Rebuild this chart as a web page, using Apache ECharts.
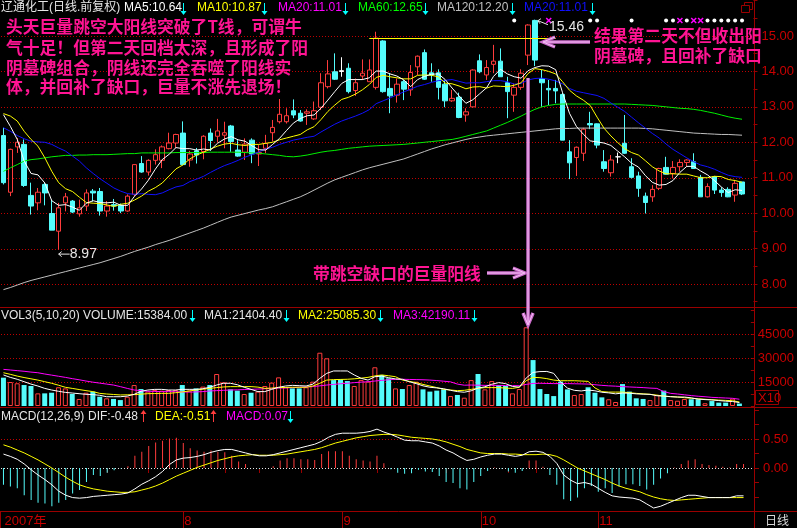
<!DOCTYPE html>
<html>
<head>
<meta charset="utf-8">
<script src="https://cdn.jsdelivr.net/npm/echarts@6/dist/echarts.min.js"></script>
<style>
html,body{margin:0;padding:0;background:#000;}
#main{width:797px;height:528px;background:#000;}
</style>
</head>
<body>
<div id="main"></div>
<script>
// ---- daily prices (open / close / low / high), late June to end of November 2007 ----
const openP = [12.19,10.59,11.87,11.94,10.50,10.29,10.81,9.99,9.49,10.29,
10.34,9.98,10.20,10.62,10.61,10.06,10.24,10.22,10.06,10.53,
11.40,11.16,11.49,11.49,11.82,11.98,12.26,11.50,11.76,11.74,
12.26,12.17,12.20,12.46,11.78,11.72,12.06,11.67,11.83,12.27,
12.58,12.58,12.89,12.82,12.82,12.66,12.99,13.57,13.99,14.02,
14.09,13.46,13.87,13.71,13.55,14.86,13.52,13.33,13.71,13.48,
14.13,14.53,13.96,13.96,13.64,13.17,13.27,12.77,13.00,14.30,
13.90,14.20,14.29,13.68,13.33,13.55,14.46,15.44,13.80,13.52,
13.52,13.35,11.73,11.57,11.69,12.53,12.52,11.45,11.14,11.59,
11.97,11.31,11.05,10.48,10.46,10.70,11.29,11.12,11.31,11.43,
11.45,11.01,10.46,11.03,10.65,10.67,10.51,10.88];
const closeP = [10.86,11.80,12.00,10.78,10.20,10.59,10.57,9.52,10.15,10.46,
10.03,10.15,10.57,10.57,10.06,10.20,10.20,10.06,10.48,11.37,
11.16,11.49,11.65,11.87,11.98,12.22,11.37,11.67,11.64,12.17,
12.05,12.32,12.27,12.02,11.61,11.95,11.67,11.71,11.97,12.42,
12.79,12.75,12.77,12.60,12.86,12.89,13.68,13.93,13.78,14.00,
13.43,13.68,13.95,14.04,14.94,13.43,13.31,13.64,13.50,13.97,
14.43,13.78,13.90,13.55,13.17,13.24,12.70,12.86,14.04,13.99,
14.11,14.29,13.85,13.43,13.55,13.95,15.31,14.32,13.68,13.48,
13.45,12.06,11.42,11.86,12.37,12.49,11.92,11.26,11.50,11.59,
11.69,11.01,10.70,10.30,10.67,11.26,11.10,11.29,11.43,11.50,
11.26,10.46,10.75,10.65,10.58,10.46,10.84,10.54];
const lowP = [10.81,10.48,11.70,10.74,9.96,10.08,10.22,9.52,8.97,10.05,
10.00,9.90,10.06,10.33,9.93,9.90,10.07,10.00,10.04,10.48,
11.14,11.06,11.37,11.27,11.80,11.84,11.35,11.31,11.40,11.52,
11.76,12.01,11.83,11.73,11.59,11.50,11.41,11.33,11.69,12.02,
12.53,12.53,12.68,12.58,12.49,12.63,12.91,13.52,13.76,13.85,
13.38,13.31,13.76,13.71,13.49,13.40,12.82,13.12,13.19,13.31,
13.90,13.76,13.71,13.21,12.99,13.14,12.68,12.58,12.98,13.95,
13.76,13.95,13.85,12.68,12.86,13.48,14.18,14.15,13.00,13.05,
13.10,12.06,10.96,11.05,11.47,12.37,11.83,11.17,11.03,11.41,
11.67,10.98,10.46,9.99,10.32,10.65,11.09,10.98,11.17,11.31,
11.26,10.46,10.44,10.54,10.46,10.45,10.32,10.51];
const highP = [12.41,11.82,12.12,12.08,10.86,10.71,10.86,10.38,10.29,10.57,
10.37,10.38,10.67,10.68,10.71,10.34,10.40,10.27,10.53,11.38,
11.61,11.52,11.80,11.91,12.27,12.24,12.59,11.76,11.84,12.20,
12.39,12.66,12.58,12.49,12.06,12.11,12.11,11.92,12.21,12.63,
13.22,12.96,13.21,12.91,12.93,13.15,13.95,14.32,14.51,14.40,
14.23,13.80,14.34,14.34,15.12,14.88,13.95,13.80,13.76,14.18,
14.45,14.62,14.23,14.06,13.76,13.48,13.40,12.96,14.06,14.48,
14.32,14.75,14.65,13.85,13.66,14.06,15.33,15.46,14.04,13.76,
13.76,13.40,12.06,11.88,12.41,12.86,12.53,11.78,11.64,11.71,
12.77,11.55,11.17,10.58,10.79,11.28,11.59,11.47,11.52,11.52,
11.69,11.08,10.84,11.05,10.73,10.73,10.94,10.88];
// days drawn as white crosses (open practically equal to close)
const dojiIdx = [49, 89];

// ---- price moving averages ----
const ma5 = [12.78,12.45,12.08,11.47,11.12,11.08,10.85,10.35,10.22,10.24,
10.17,10.08,10.28,10.35,10.30,10.29,10.31,10.22,10.22,10.48,
10.68,10.93,11.24,11.51,11.66,11.85,11.82,11.82,11.78,11.81,
11.78,11.97,12.09,12.16,12.07,12.03,11.90,11.79,11.78,11.94,
12.11,12.33,12.54,12.67,12.75,12.77,12.96,13.19,13.43,13.66,
13.77,13.77,13.77,13.82,14.01,14.01,13.93,13.87,13.76,13.57,
13.77,13.86,13.92,13.93,13.77,13.53,13.31,13.10,13.20,13.37,
13.54,13.86,14.06,13.93,13.85,13.81,14.02,14.11,14.16,14.15,
14.05,13.40,12.82,12.45,12.23,12.04,12.01,11.98,11.91,11.75,
11.59,11.41,11.30,11.06,10.87,10.79,10.81,10.92,11.15,11.32,
11.32,11.19,11.08,10.92,10.74,10.58,10.66,10.64];
const ma10 = [12.81,12.74,12.60,12.31,12.08,11.89,11.56,11.18,10.86,10.69,
10.61,10.45,10.30,10.28,10.27,10.23,10.19,10.25,10.28,10.37,
10.48,10.62,10.72,10.85,11.05,11.25,11.36,11.53,11.64,11.72,
11.81,11.89,11.95,11.97,11.93,11.91,11.94,11.94,11.97,12.00,
12.07,12.12,12.17,12.22,12.35,12.44,12.64,12.87,13.05,13.21,
13.27,13.36,13.48,13.63,13.83,13.89,13.85,13.82,13.79,13.79,
13.89,13.90,13.89,13.85,13.67,13.65,13.59,13.51,13.56,13.57,
13.53,13.59,13.58,13.57,13.61,13.68,13.94,14.08,14.05,14.00,
13.93,13.71,13.47,13.31,13.19,13.04,12.71,12.40,12.18,11.99,
11.82,11.71,11.64,11.48,11.31,11.19,11.11,11.11,11.10,11.10,
11.05,11.00,11.00,11.04,11.03,10.95,10.92,10.87];
const ma20 = [12.41,12.31,12.19,12.10,12.03,12.01,12.00,11.94,11.84,11.75,
11.61,11.47,11.28,11.12,10.97,10.84,10.71,10.62,10.55,10.53,
10.55,10.53,10.52,10.57,10.66,10.74,10.78,10.89,10.96,11.04,
11.15,11.25,11.34,11.41,11.49,11.58,11.65,11.73,11.81,11.86,
11.94,12.00,12.06,12.10,12.14,12.17,12.29,12.40,12.51,12.60,
12.67,12.74,12.82,12.92,13.09,13.17,13.25,13.34,13.42,13.50,
13.58,13.63,13.69,13.74,13.75,13.77,13.72,13.67,13.68,13.68,
13.71,13.74,13.74,13.71,13.64,13.66,13.76,13.80,13.81,13.78,
13.73,13.65,13.52,13.44,13.40,13.36,13.32,13.24,13.11,12.99,
12.87,12.71,12.55,12.40,12.25,12.12,11.95,11.80,11.68,11.56,
11.45,11.36,11.31,11.24,11.15,11.07,11.03,11.01];
const ma60 = [11.18,11.28,11.37,11.47,11.51,11.53,11.56,11.59,11.61,11.63,
11.63,11.64,11.64,11.65,11.65,11.65,11.66,11.67,11.68,11.68,
11.70,11.70,11.70,11.70,11.70,11.71,11.71,11.71,11.71,11.71,
11.72,11.72,11.72,11.72,11.72,11.71,11.70,11.69,11.67,11.65,
11.63,11.60,11.59,11.61,11.64,11.68,11.72,11.75,11.77,11.80,
11.83,11.85,11.87,11.89,11.90,11.91,11.92,11.93,11.94,11.96,
11.98,12.00,12.02,12.04,12.06,12.08,12.12,12.17,12.22,12.27,
12.32,12.40,12.48,12.56,12.65,12.74,12.84,12.93,13.00,13.04,
13.07,13.08,13.08,13.08,13.08,13.08,13.08,13.08,13.08,13.08,
13.08,13.07,13.06,13.05,13.04,13.02,13.00,12.98,12.96,12.95,
12.93,12.90,12.86,12.82,12.77,12.72,12.68,12.65];
const ma120 = [7.84,7.90,7.97,8.04,8.10,8.15,8.20,8.25,8.30,8.35,
8.40,8.45,8.50,8.55,8.60,8.66,8.72,8.78,8.85,8.92,
8.98,9.04,9.11,9.17,9.23,9.30,9.37,9.44,9.51,9.58,
9.66,9.74,9.82,9.89,9.94,9.99,10.04,10.09,10.13,10.18,
10.25,10.32,10.39,10.46,10.55,10.65,10.75,10.85,10.94,11.01,
11.08,11.15,11.22,11.28,11.33,11.38,11.43,11.48,11.53,11.60,
11.67,11.74,11.81,11.87,11.93,11.98,12.03,12.08,12.12,12.15,
12.18,12.20,12.22,12.24,12.26,12.28,12.30,12.32,12.34,12.36,
12.38,12.39,12.39,12.40,12.40,12.40,12.40,12.40,12.40,12.40,
12.40,12.40,12.40,12.39,12.38,12.36,12.34,12.32,12.30,12.28,
12.26,12.25,12.24,12.23,12.22,12.22,12.21,12.20];

// ---- volume (shares) and its 5 / 10 / 20 day averages ----
const volume = [177000,150000,142000,131000,125000,79000,79000,83000,117000,110000,
75000,44000,83000,90000,58000,48000,44000,37000,58000,131000,
106000,90000,100000,96000,100000,100000,131000,96000,110000,121000,
131000,200000,148000,104000,96000,75000,83000,90000,125000,146000,
179000,117000,110000,110000,117000,152000,333000,298000,162000,167000,
156000,125000,162000,152000,242000,194000,173000,110000,106000,131000,
152000,104000,90000,96000,104000,62000,69000,52000,162000,200000,
104000,156000,131000,125000,79000,106000,492000,287000,106000,75000,
62000,152000,104000,69000,75000,117000,83000,54000,42000,25000,
137000,90000,48000,44000,37000,69000,96000,37000,33000,44000,
42000,42000,17000,31000,21000,21000,46000,15384];
const volMa5 = [194000,179000,167000,152000,137000,125000,110000,100000,92000,85000,
81000,77000,73000,71000,67000,58000,58000,58000,62000,73000,
92000,100000,104000,104000,100000,100000,104000,104000,104000,108000,
117000,131000,142000,142000,133000,117000,104000,90000,90000,104000,
117000,125000,129000,127000,125000,137000,173000,204000,219000,219000,
219000,194000,173000,162000,183000,187000,177000,169000,167000,152000,
140000,126000,117000,113000,108000,98000,90000,86000,95000,112000,
120000,136000,146000,140000,122000,118000,175000,210000,215000,216000,
204000,150000,112000,98000,94000,100000,95000,86000,82000,76000,
81000,80000,76000,74000,73000,64000,62000,58000,56000,56000,
51000,43000,40000,38000,34000,30000,28000,21404.40];
const volMa10 = [208000,198000,187000,178000,170000,162000,152000,142000,130000,117000,
110000,103000,96000,90000,79000,75000,72000,69000,70000,71000,
74000,77000,78000,79000,79000,83000,88000,94000,100000,105000,
110000,115000,119000,121000,121000,121000,121000,118000,110000,112000,
115000,116000,117000,117000,117000,125000,142000,162000,165000,166000,
167000,170000,174000,179000,188000,194000,189000,183000,162000,154000,
146000,135000,125000,115000,104000,100000,96000,98000,104000,110000,
115000,115000,115000,112000,110000,117000,158000,179000,177000,171000,
162000,158000,158000,158000,156000,154000,113000,90000,87000,87000,
87000,83000,79000,76000,73000,68000,62000,59000,56000,52000,
48000,45000,42000,39000,37000,35000,33000,25085.30];
const volMa20 = [229000,225000,221000,217000,212000,208000,200000,193000,186000,179000,
171000,164000,156000,149000,143000,137000,131000,121000,110000,100000,
96000,92000,91000,90000,90000,89000,88000,87000,88000,90000,
94000,96000,98000,100000,101000,103000,104000,106000,108000,110000,
112000,113000,115000,117000,119000,121000,126000,131000,135000,139000,
142000,146000,149000,152000,156000,160000,164000,167000,167000,166000,
165000,164000,162000,159000,155000,151000,137000,130000,131000,130000,
129000,129000,129000,128000,127000,127000,135000,141000,142000,141000,
140000,140000,140000,139000,138000,137000,133000,129000,126000,124000,
121000,119000,117000,115000,112000,110000,90000,79000,75000,70000,
65000,61000,58000,54000,52000,50000,48000,42190.11];

// ---- MACD(12,26,9) ----
const dif = [0.24,0.20,0.15,0.07,-0.03,-0.12,-0.20,-0.29,-0.40,-0.47,
-0.51,-0.52,-0.51,-0.49,-0.48,-0.47,-0.46,-0.45,-0.43,-0.36,
-0.28,-0.22,-0.15,-0.06,0.06,0.14,0.17,0.18,0.20,0.23,
0.27,0.30,0.32,0.32,0.29,0.26,0.23,0.21,0.21,0.23,
0.26,0.29,0.32,0.35,0.38,0.41,0.46,0.53,0.58,0.60,
0.60,0.60,0.61,0.63,0.67,0.62,0.58,0.53,0.48,0.47,
0.47,0.45,0.43,0.38,0.31,0.26,0.19,0.13,0.15,0.19,
0.22,0.24,0.24,0.22,0.20,0.22,0.28,0.29,0.27,0.20,
0.08,-0.12,-0.21,-0.27,-0.25,-0.28,-0.35,-0.42,-0.48,-0.50,
-0.51,-0.52,-0.55,-0.62,-0.69,-0.66,-0.61,-0.56,-0.51,-0.47,
-0.47,-0.49,-0.51,-0.51,-0.51,-0.51,-0.48,-0.48];
const dea = [0.40,0.36,0.31,0.26,0.20,0.14,0.07,0.00,-0.08,-0.16,
-0.23,-0.29,-0.33,-0.36,-0.38,-0.40,-0.41,-0.42,-0.42,-0.41,
-0.38,-0.35,-0.31,-0.26,-0.20,-0.14,-0.09,-0.04,0.01,0.05,
0.09,0.13,0.16,0.19,0.21,0.22,0.23,0.22,0.22,0.22,
0.23,0.24,0.26,0.28,0.30,0.32,0.35,0.39,0.43,0.46,
0.49,0.52,0.54,0.56,0.57,0.58,0.58,0.57,0.55,0.53,
0.52,0.51,0.50,0.48,0.45,0.41,0.37,0.32,0.29,0.26,
0.25,0.25,0.25,0.24,0.24,0.23,0.23,0.23,0.24,0.23,
0.20,0.14,0.07,0.00,-0.05,-0.10,-0.15,-0.20,-0.26,-0.31,
-0.35,-0.38,-0.41,-0.46,-0.50,-0.53,-0.55,-0.56,-0.55,-0.54,
-0.53,-0.52,-0.51,-0.51,-0.51,-0.51,-0.51,-0.51];
const macd = [-0.29,-0.32,-0.35,-0.47,-0.55,-0.60,-0.61,-0.66,-0.60,-0.55,
-0.44,-0.38,-0.24,-0.12,-0.14,-0.08,-0.04,-0.01,0.03,0.21,
0.28,0.38,0.44,0.47,0.51,0.52,0.43,0.34,0.30,0.28,
0.30,0.28,0.27,0.21,0.11,0.07,0.00,-0.01,0.00,0.03,
0.13,0.17,0.17,0.15,0.15,0.14,0.24,0.29,0.29,0.29,
0.21,0.15,0.13,0.11,0.21,0.08,-0.02,-0.08,-0.10,-0.09,
-0.03,-0.06,-0.07,-0.14,-0.24,-0.26,-0.35,-0.37,-0.24,-0.14,
-0.05,0.01,-0.01,-0.06,-0.08,-0.05,0.13,0.13,0.02,-0.12,
-0.29,-0.54,-0.57,-0.51,-0.35,-0.31,-0.41,-0.35,-0.43,-0.32,
-0.28,-0.28,-0.31,-0.37,-0.29,-0.18,-0.09,0.01,0.07,0.13,
0.15,0.07,0.05,0.04,0.02,0.01,0.07,0.07];

// ---- axis ticks and labels ----
const categories = openP.map((_, i) => 'D' + (i + 1));
const monthStarts = [0, 26, 49, 69, 86];
const monthNames = ['2007年', '8', '9', '10', '11'];
const weekTicks = [10, 15, 21, 32, 37, 43, 54, 59, 64, 73, 77, 82];
const priceTicks = [8, 9, 10, 11, 12, 13, 14, 15];
const volTicks = [15000, 30000, 45000];     // axis shows volume / 10
const macdTicks = [0, 0.5];

// ---- signal row markers ----
const signalDots = [74, 85, 86, 91, 96, 97, 99, 102, 103, 104, 105, 106, 107];
const signalCrosses = [79, 98, 100, 101];

// ---- annotation anchors ----
const gapDay = 76;          // gap-up big-volume day
const gapLine = { from: 53, to: 80, day: 54 };

// ---- colours ----
const C_UP = '#ff3c3c', C_DN = '#54fcfc', C_FRAME = '#9a0000', C_GRID = '#c00000', C_AXIS = '#c80000';
const C_NOTE = '#ff1493', C_ARROW = '#cc6ccc', C_ARROW_IN = '#f6c2f6';
const NUM_FONT = '"Liberation Sans Narrow", "Liberation Sans", sans-serif';
const HEAD_FONT = '12px "Liberation Sans", "Noto Sans CJK SC", sans-serif';
const NOTE_FONT = 'bold 16.8px "Noto Sans CJK SC", sans-serif';

const chart = echarts.init(document.getElementById('main'), null, { renderer: 'canvas' });

const candleData = openP.map((o, i) => {
  const item = { value: [o, closeP[i], lowP[i], highP[i]] };
  if (dojiIdx.includes(i)) {
    item.itemStyle = { color: '#ffffff', color0: '#ffffff', borderColor: '#ffffff', borderColor0: '#ffffff' };
  }
  return item;
});
const volData = volume.map((v, i) => ({
  value: v,
  itemStyle: closeP[i] >= openP[i]
    ? { color: '#000000', borderColor: C_UP, borderWidth: 1 }
    : { color: C_DN, borderColor: C_DN, borderWidth: 0 }
}));
const macdData = macd.map(v => ({ value: v, itemStyle: { color: v >= 0 ? C_UP : C_DN } }));

function maLine(data, color, axis) {
  return {
    type: 'line', data, xAxisIndex: axis, yAxisIndex: axis,
    symbol: 'none', silent: true, z: 4,
    lineStyle: { color, width: 1 }
  };
}
function valueAxis(grid, min, max, interval, fmt, margin) {
  return {
    type: 'value', gridIndex: grid, position: 'right', offset: 8,
    min, max, interval, scale: false,
    axisLine: { show: false }, splitLine: { show: false },
    axisTick: { show: true, length: 4, lineStyle: { color: C_FRAME } },
    axisLabel: { color: C_AXIS, fontSize: 13, fontFamily: NUM_FONT, margin, formatter: fmt }
  };
}

chart.setOption({
  animation: false,
  backgroundColor: 'transparent',
  grid: [
    { left: 0, top: 0.57, width: 747, height: 301.13 },
    { left: 0, top: 310, width: 747, height: 96 },
    { left: 0, top: 410, width: 747, height: 101.5 }
  ],
  xAxis: [
    { type: 'category', gridIndex: 0, data: categories, boundaryGap: true, show: false },
    { type: 'category', gridIndex: 1, data: categories, boundaryGap: true, show: false },
    {
      type: 'category', gridIndex: 2, data: categories, boundaryGap: true,
      axisLine: { show: false }, splitLine: { show: false },
      axisTick: {
        show: true, alignWithLabel: true, length: 5,
        interval: i => weekTicks.includes(i),
        lineStyle: { color: C_FRAME }
      },
      axisLabel: {
        show: true, interval: i => monthStarts.includes(i),
        formatter: (v, i) => monthNames[monthStarts.indexOf(i)] || '',
        color: C_AXIS, fontSize: 13, fontFamily: '"Liberation Sans", "Noto Sans CJK SC", sans-serif',
        align: 'left', margin: 3, padding: [0, 0, 0, 1]
      }
    }
  ],
  yAxis: [
    valueAxis(0, 7.5, 16, 0.5, v => priceTicks.includes(v) ? v.toFixed(2) : '', 8),
    valueAxis(1, 0, 600000, 75000, v => volTicks.includes(v / 10) ? String(v / 10) : '', 7),
    valueAxis(2, -0.75, 1, 0.25, v => macdTicks.includes(v) ? v.toFixed(2) : '', 8)
  ],
  series: [
    {
      type: 'candlestick', xAxisIndex: 0, yAxisIndex: 0, data: candleData,
      barWidth: 5, z: 3, silent: true,
      itemStyle: { color: '#000000', color0: C_DN, borderColor: C_UP, borderColor0: C_DN, borderWidth: 1 }
    },
    maLine(ma120, '#c0c0c0', 0),
    maLine(ma60, '#00f000', 0),
    maLine(ma20, '#1010ff', 0),
    maLine(ma10, '#ffff00', 0),
    maLine(ma5, '#ffffff', 0),
    { type: 'bar', xAxisIndex: 1, yAxisIndex: 1, data: volData, barWidth: 5, silent: true, z: 3 },
    maLine(volMa20, '#ff00ff', 1),
    maLine(volMa10, '#ffff00', 1),
    maLine(volMa5, '#ffffff', 1),
    { type: 'bar', xAxisIndex: 2, yAxisIndex: 2, data: macdData, barWidth: 1, silent: true, z: 3 },
    maLine(dea, '#ffff00', 2),
    maLine(dif, '#ffffff', 2)
  ]
});

// ---------- overlay: frame, grid lines, headers and notes ----------
const px = (g, i, v) => chart.convertToPixel({ gridIndex: g }, [i, v]);
const els = [];
function seg(x1, y1, x2, y2, stroke, w, dash, z) {
  els.push({ type: 'line', silent: true, z: z || 50,
    shape: { x1, y1, x2, y2 },
    style: { stroke, lineWidth: w || 1, lineDash: dash || null } });
}
function text(str, x, y, fill, font, align) {
  els.push({ type: 'text', silent: true, z: 60,
    style: { text: str, x, y, fill, font,
      align: align || 'left', verticalAlign: 'middle',
      textAlign: align || 'left', textVerticalAlign: 'middle' } });
}
function poly(points, stroke, w, z) {
  els.push({ type: 'polyline', silent: true, z: z || 55,
    shape: { points }, style: { stroke, lineWidth: w, fill: null, lineJoin: 'miter' } });
}
// dotted horizontal rule: one-pixel dots every third pixel, behind the series
function dotted(y, x0, x1, color) {
  const yy = Math.round(y) + 0.5;
  els.push({ type: 'line', silent: true, z: 1,
    shape: { x1: x0, y1: yy, x2: x1, y2: yy },
    style: { stroke: color, lineWidth: 1, lineDash: [1, 2] } });
}
// thin indicator arrows in the header rows
function smallArrow(x, yTop, down, color) {
  const yb = yTop + 11;
  seg(x + 0.5, yTop, x + 0.5, yb, color, 1, null, 60);
  if (down) {
    els.push({ type: 'polygon', silent: true, z: 60,
      shape: { points: [[x - 2.5, yb - 3], [x + 3.5, yb - 3], [x + 0.5, yb + 1]] }, style: { fill: color } });
  } else {
    els.push({ type: 'polygon', silent: true, z: 60,
      shape: { points: [[x - 2.5, yTop + 3], [x + 3.5, yTop + 3], [x + 0.5, yTop - 1]] }, style: { fill: color } });
  }
}
// thick pink annotation arrow ending at (x2, y2)
function noteArrow(x1, y1, x2, y2, head) {
  const dx = x2 - x1, dy = y2 - y1, len = Math.hypot(dx, dy);
  const ux = dx / len, uy = dy / len, nx = -uy, ny = ux;
  const h = head || 11, hw = 5;
  const wing1 = [x2 - ux * h + nx * hw, y2 - uy * h + ny * hw];
  const wing2 = [x2 - ux * h - nx * hw, y2 - uy * h - ny * hw];
  seg(x1, y1, x2 - ux * 2, y2 - uy * 2, C_ARROW, 3.5, null, 55);
  poly([wing1, [x2, y2], wing2], C_ARROW, 3.5, 55);
  seg(x1, y1, x2 - ux * 2, y2 - uy * 2, C_ARROW_IN, 1, null, 56);
  poly([wing1, [x2, y2], wing2], C_ARROW_IN, 1, 56);
}

const RIGHT = 754.5;
// panel frame
seg(RIGHT, 0, RIGHT, 528, C_FRAME, 1);
seg(0, 307.5, 797, 307.5, C_FRAME, 1);
seg(0, 407.5, 797, 407.5, C_FRAME, 1);
seg(0, 511.5, 797, 511.5, C_FRAME, 1);
seg(0.5, 511.5, 0.5, 528, C_FRAME, 1);
// month separators on the date strip
monthStarts.slice(1).forEach(i => {
  const x = Math.round(px(2, i, 0)[0]) + 0.5;
  seg(x, 511.5, x, 528, C_FRAME, 1);
});
// dotted grid lines
priceTicks.forEach(v => dotted(px(0, 0, v)[1], 1, 754, C_GRID));
volTicks.forEach(v => dotted(px(1, 0, v * 10)[1], 1, 754, C_GRID));
macdTicks.forEach(v => dotted(px(2, 0, v)[1], 1, 754, v === 0 ? '#e8e8e8' : C_GRID));
// window icon, volume scale box, period box
els.push({ type: 'rect', silent: true, z: 50, shape: { x: 744.5, y: 2.5, width: 8, height: 7 }, style: { stroke: C_FRAME, fill: null } });
els.push({ type: 'rect', silent: true, z: 50, shape: { x: 741.5, y: 5.5, width: 8, height: 7 }, style: { stroke: C_FRAME, fill: '#000' } });
els.push({ type: 'rect', silent: true, z: 50, shape: { x: 755.5, y: 390.5, width: 23, height: 14 }, style: { stroke: C_FRAME, fill: null } });
text('X10', 758, 398, C_AXIS, '13px ' + NUM_FONT);
text('日线', 765, 520, '#d8d8d8', '12px "Noto Sans CJK SC", sans-serif');

// header rows
const last = openP.length - 1;
const WHITE = '#e6e6e6', CYAN = '#00ffff', RED = '#ff3c3c';
text('辽通化工(日线.前复权)', 1, 8, WHITE, HEAD_FONT);
[
  ['MA5:' + ma5[last].toFixed(2), 124, '#ffffff', 183],
  ['MA10:' + ma10[last].toFixed(2), 197, '#ffff00', 264],
  ['MA20:' + ma20[last].toFixed(2), 278, '#ff00ff', 345],
  ['MA60:' + ma60[last].toFixed(2), 358, '#00ff00', 425],
  ['MA120:' + ma120[last].toFixed(2), 437, '#c0c0c0', 512],
  ['MA20:' + ma20[last].toFixed(2), 524, '#1010ff', 592]
].forEach(([s, x, c, ax]) => { text(s, x, 8, c, HEAD_FONT); smallArrow(ax, 3, true, CYAN); });

text('VOL3(5,10,20)', 1, 316, WHITE, HEAD_FONT);
[
  ['VOLUME:' + volume[last].toFixed(2), 83, WHITE, 192],
  ['MA1:' + volMa5[last].toFixed(2), 204, WHITE, 286],
  ['MA2:' + volMa10[last].toFixed(2), 298, '#ffff00', 380],
  ['MA3:' + volMa20[last].toFixed(2), 393, '#ff00ff', 474]
].forEach(([s, x, c, ax]) => { text(s, x, 316, c, HEAD_FONT); smallArrow(ax, 310, true, CYAN); });

text('MACD(12,26,9)', 1, 417, WHITE, HEAD_FONT);
text('DIF:' + dif[last].toFixed(2), 88, 417, WHITE, HEAD_FONT);
smallArrow(143, 411, false, RED);
text('DEA:' + dea[last].toFixed(2), 155, 417, '#ffff00', HEAD_FONT);
smallArrow(213, 411, false, RED);
text('MACD:' + macd[last].toFixed(2), 226, 417, '#ff00ff', HEAD_FONT);
smallArrow(290, 411, true, CYAN);

// signal markers row
const SIG_Y = 20.5;
signalDots.forEach(i => {
  els.push({ type: 'circle', silent: true, z: 50, shape: { cx: px(0, i, 10)[0], cy: SIG_Y, r: 2 }, style: { fill: '#ffffff' } });
});
signalCrosses.forEach(i => {
  const x = px(0, i, 10)[0];
  seg(x - 2.5, SIG_Y - 2.5, x + 2.5, SIG_Y + 2.5, '#ff00ff', 1.5);
  seg(x - 2.5, SIG_Y + 2.5, x + 2.5, SIG_Y - 2.5, '#ff00ff', 1.5);
});

// highest high / lowest low labels
let hiIdx = 0, loIdx = 0;
highP.forEach((v, i) => { if (v > highP[hiIdx]) hiIdx = i; });
lowP.forEach((v, i) => { if (v < lowP[loIdx]) loIdx = i; });
{
  const [hx, hy] = px(0, hiIdx, highP[hiIdx]);
  seg(hx + 3, hy + 1, hx + 13, hy + 5, '#e6e6e6', 1);
  poly([[hx + 6, hy - 1], [hx + 3, hy + 1], [hx + 5, hy + 4]], '#e6e6e6', 1);
  text(highP[hiIdx].toFixed(2), hx + 14, hy + 7, '#e6e6e6', '14px ' + NUM_FONT);
  const [lx, ly] = px(0, loIdx, lowP[loIdx]);
  seg(lx, ly + 4.5, lx + 11, ly + 4.5, '#e6e6e6', 1);
  poly([[lx + 3, ly + 2], [lx, ly + 4.5], [lx + 3, ly + 7]], '#e6e6e6', 1);
  text(lowP[loIdx].toFixed(2), lx + 11, ly + 4.5, '#e6e6e6', '14px ' + NUM_FONT);
}

// level of the breakout close carried to the following days
{
  const a = px(0, gapLine.from, closeP[gapLine.day]);
  const b = px(0, gapLine.to, closeP[gapLine.day]);
  const y = Math.round(a[1]) + 0.5;
  seg(a[0], y, b[0], y, '#ffff00', 1, null, 45);
}

// notes
const noteLines = [
  '头天巨量跳空大阳线突破了T线，可谓牛',
  '气十足！但第二天回档太深，且形成了阳',
  '阴墓碑组合，阴线还完全吞噬了阳线实',
  '体，并回补了缺口，巨量不涨先退场！'
];
[27, 48, 68, 87].forEach((y, k) => text(noteLines[k], 6, y, C_NOTE, NOTE_FONT));
text('结果第二天不但收出阳', 594, 36, C_NOTE, NOTE_FONT);
text('阴墓碑，且回补了缺口', 594, 56, C_NOTE, NOTE_FONT);
text('带跳空缺口的巨量阳线', 313, 274, C_NOTE, NOTE_FONT);

// arrows
noteArrow(590, 42, 543, 42, 12);
noteArrow(487, 273, 525, 273, 12);
{
  const gx = px(0, gapDay, 10)[0];
  noteArrow(gx, 78, gx, 325, 12);
}

chart.setOption({ graphic: { elements: els } });
</script>
</body>
</html>
